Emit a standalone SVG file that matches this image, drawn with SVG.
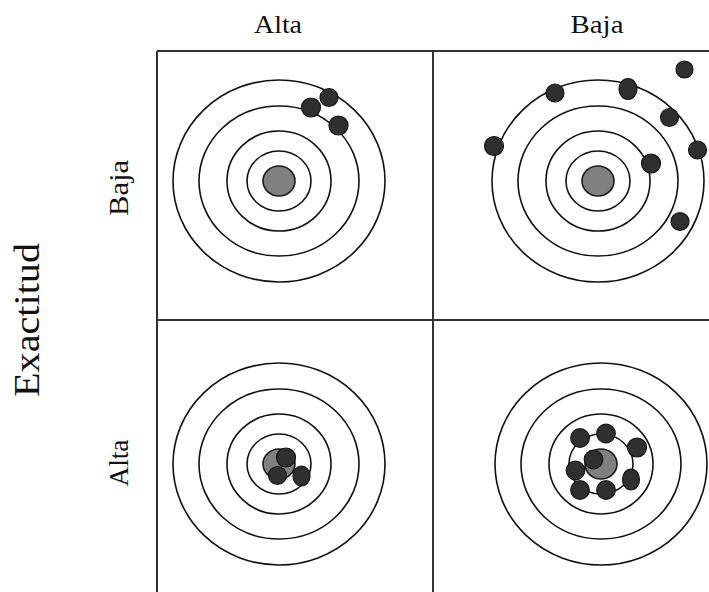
<svg xmlns="http://www.w3.org/2000/svg" width="709" height="592" viewBox="0 0 709 592">
  <style>
    .lbl { font-family: "Liberation Serif", "Times New Roman", serif; fill: #111; text-anchor: middle; }
    .grid { stroke: #333; stroke-width: 2; fill: none; }
    .ring { stroke: #111; stroke-width: 1.6; fill: none; }
    .bull { fill: #808080; stroke: #1a1a1a; stroke-width: 1.6; }
    .dot { fill: #2f2f2f; stroke: #151515; stroke-width: 1.2; }
  </style>
  <defs>
    <g id="target">
      <ellipse class="ring" cx="0" cy="0" rx="106" ry="101"/>
      <ellipse class="ring" cx="0" cy="0" rx="80" ry="75"/>
      <ellipse class="ring" cx="0" cy="0" rx="52" ry="50"/>
      <ellipse class="ring" cx="0" cy="0" rx="32" ry="30"/>
      <ellipse class="bull" cx="0" cy="0" rx="16" ry="15"/>
    </g>
  </defs>
  <rect width="709" height="592" fill="#fff"/>

  <g id="labels">
    <text class="lbl" x="278" y="32.5" font-size="26" textLength="48" lengthAdjust="spacingAndGlyphs">Alta</text>
    <text class="lbl" x="597" y="32.5" font-size="26" textLength="53" lengthAdjust="spacingAndGlyphs">Baja</text>
    <text class="lbl" transform="translate(128,188) rotate(-90)" font-size="27" textLength="56" lengthAdjust="spacingAndGlyphs">Baja</text>
    <text class="lbl" transform="translate(128,463) rotate(-90)" font-size="27" textLength="47" lengthAdjust="spacingAndGlyphs">Alta</text>
    <text class="lbl" transform="translate(38.5,320) rotate(-90)" font-size="35" textLength="154" lengthAdjust="spacingAndGlyphs">Exactitud</text>
  </g>

  <g id="grid">
    <line class="grid" x1="157" y1="51" x2="709" y2="51"/>
    <line class="grid" x1="157" y1="320" x2="709" y2="320"/>
    <line class="grid" x1="157" y1="51" x2="157" y2="592"/>
    <line class="grid" x1="433" y1="51" x2="433" y2="592"/>
  </g>

  <g id="target-top-left">
    <use href="#target" x="279" y="181"/>
    <circle class="dot" cx="311" cy="107.5" r="9.5"/>
    <circle class="dot" cx="329" cy="97.5" r="9"/>
    <circle class="dot" cx="338.5" cy="125.5" r="9.5"/>
  </g>

  <g id="target-top-right">
    <use href="#target" x="598" y="181"/>
    <circle class="dot" cx="555" cy="93" r="9"/>
    <ellipse class="dot" cx="628" cy="89" rx="9" ry="10.5"/>
    <circle class="dot" cx="684.5" cy="69.5" r="8.5"/>
    <circle class="dot" cx="669.5" cy="117.5" r="9"/>
    <circle class="dot" cx="697.5" cy="150" r="9"/>
    <circle class="dot" cx="494" cy="146" r="9.5"/>
    <circle class="dot" cx="651" cy="163.5" r="9.5"/>
    <circle class="dot" cx="680" cy="221.5" r="9"/>
  </g>

  <g id="target-bottom-left">
    <use href="#target" x="279" y="464"/>
    <circle class="dot" cx="286" cy="457.5" r="9.5"/>
    <circle class="dot" cx="277.5" cy="475.5" r="9"/>
    <ellipse class="dot" cx="301.5" cy="476" rx="8.5" ry="10"/>
  </g>

  <g id="target-bottom-right">
    <use href="#target" x="601" y="464"/>
    <circle class="dot" cx="580" cy="438" r="9.3"/>
    <circle class="dot" cx="606" cy="433.5" r="9.3"/>
    <circle class="dot" cx="637" cy="447.5" r="9.5"/>
    <circle class="dot" cx="593.5" cy="459.5" r="9.3"/>
    <circle class="dot" cx="575.5" cy="470.5" r="9.3"/>
    <ellipse class="dot" cx="631" cy="479.5" rx="8.5" ry="10.5"/>
    <circle class="dot" cx="580" cy="490" r="9.3"/>
    <circle class="dot" cx="606" cy="490" r="9.3"/>
  </g>
</svg>
